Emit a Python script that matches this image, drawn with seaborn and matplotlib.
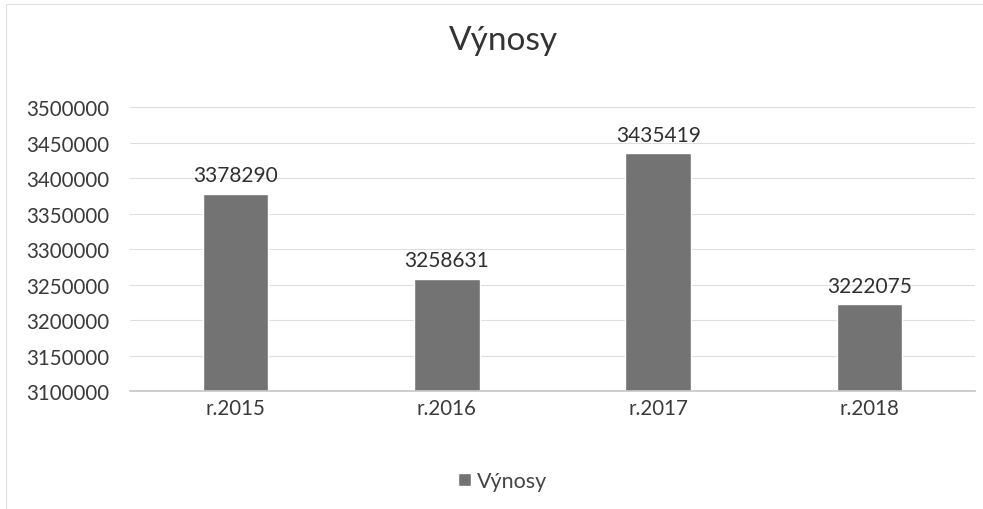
import matplotlib
matplotlib.use("Agg")
import matplotlib.pyplot as plt
import seaborn as sns
import pandas as pd

years = ["r.2015", "r.2016", "r.2017", "r.2018"]
vynosy = [3378290, 3258631, 3435419, 3222075]
yticks = [3100000, 3150000, 3200000, 3250000, 3300000, 3350000, 3400000, 3450000, 3500000]

sns.set_theme(style="white")
plt.rcParams["font.family"] = ["Lato", "DejaVu Sans"]

df = pd.DataFrame({"rok": years, "Výnosy": vynosy})

fig = plt.figure(figsize=(9.83, 5.10), dpi=100)
ax = fig.add_axes([0.132, 0.231, 0.860, 0.557])

sns.barplot(data=df, x="rok", y="Výnosy", color="#737373", width=0.31,
            saturation=1, ax=ax, label="Výnosy")

ax.set_ylim(3100000, 3500000)
ax.set_yticks(yticks)
ax.set_yticklabels([str(t) for t in yticks])
ax.grid(axis="y", color="#dedede", linewidth=0.8)
ax.set_axisbelow(True)
for s in ["top", "right", "left"]:
    ax.spines[s].set_visible(False)
ax.spines["bottom"].set_color("#c8c8c8")
ax.tick_params(axis="y", labelsize=14.8, colors="#3a3a3a", length=0, pad=15)
ax.tick_params(axis="x", labelsize=14.8, colors="#3a3a3a", length=0, pad=5)
ax.set_xlabel("")
ax.set_ylabel("")

ax.bar_label(ax.containers[0], labels=[str(v) for v in vynosy], padding=6,
             fontsize=15, color="#2f2f2f")

fig.text(0.512, 0.92, "Výnosy", ha="center", va="center", fontsize=24, color="#333333")

leg = ax.legend(loc="center", bbox_to_anchor=(0.441, -0.316), frameon=False,
                fontsize=15.5, handlelength=0.6, handleheight=0.6, handletextpad=0.3)
for t in leg.get_texts():
    t.set_color("#444444")

fig.patches.append(plt.Rectangle((0.006, -0.1), 1.2, 1.09, transform=fig.transFigure,
                                 fill=False, edgecolor="#e0e0e0", linewidth=0.8))

fig.savefig("out.png", dpi=100)
